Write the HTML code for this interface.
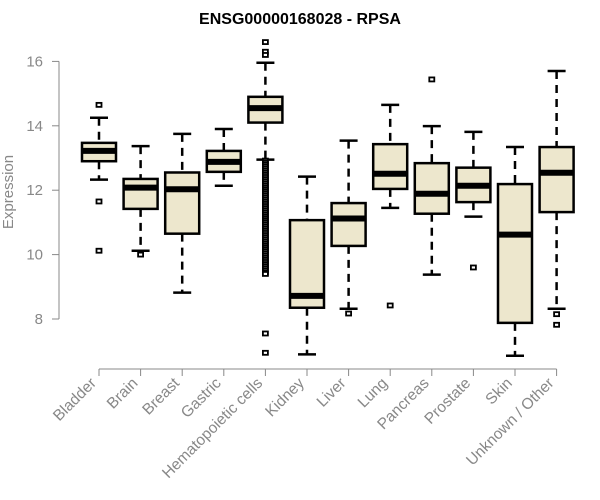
<!DOCTYPE html>
<html><head><meta charset="utf-8"><style>body{margin:0;background:#fff}svg{display:block;font-family:"Liberation Sans",Arial,sans-serif}</style></head>
<body>
<svg id="chart" width="600" height="500">
<text x="300" y="24" text-anchor="middle" font-weight="bold" font-size="16">ENSG00000168028 - RPSA</text>
<text transform="translate(13,192) rotate(-90)" text-anchor="middle" font-size="15" fill="#888">Expression</text>
<g id="plot"></g>
</svg>
<script>
const categories=["Bladder","Brain","Breast","Gastric","Hematopoietic cells","Kidney","Liver","Lung","Pancreas","Prostate","Skin","Unknown / Other"];
const lowWhisker=[12.33,10.12,8.82,12.14,12.95,6.9,8.32,11.45,9.38,11.18,6.86,8.32];
const q1=[12.9,11.42,10.65,12.57,14.1,8.35,10.27,12.04,11.27,11.63,7.88,11.32];
const medians=[13.22,12.08,12.03,12.88,14.55,8.72,11.12,12.51,11.89,12.14,10.62,12.54];
const q3=[13.47,12.35,12.55,13.22,14.9,11.07,11.6,13.43,12.84,12.7,12.19,13.34];
const highWhisker=[14.25,13.37,13.75,13.9,15.96,12.42,13.54,14.65,13.99,13.81,13.34,15.7];
const outliers=[[14.65,11.65,10.12],[10.0],[],[],[16.6,16.3,16.2,12.92,12.86,12.8,12.74,12.68,12.62,12.56,12.5,12.44,12.38,12.32,12.26,12.2,12.14,12.08,12.02,11.96,11.9,11.84,11.78,11.72,11.66,11.6,11.54,11.48,11.42,11.36,11.3,11.24,11.18,11.12,11.06,11.0,10.94,10.88,10.82,10.76,10.7,10.64,10.58,10.52,10.46,10.4,10.34,10.28,10.22,10.16,10.1,10.04,9.98,9.92,9.86,9.8,9.74,9.68,9.62,9.56,9.5,9.44,9.4,7.55,6.95],[],[8.17],[8.42],[15.44],[9.6],[],[8.15,7.82]];
const yTicks=[8,10,12,14,16];
const NS="http://www.w3.org/2000/svg";
const g=document.getElementById('plot');
const y=v=>319-(v-8)*32.2;
const x=i=>99+i*41.6;
function mk(t,a){const e=document.createElementNS(NS,t);for(const k in a)e.setAttribute(k,a[k]);g.appendChild(e);return e;}
let e=mk('line',{x1:59,x2:59,y1:y(yTicks[0]),y2:y(yTicks[yTicks.length-1]),stroke:'#888'});


yTicks.forEach(t=>{
 let l=mk('line',{x1:52,x2:59,y1:y(t),y2:y(t),stroke:'#888'});
 
 
 let tx=mk('text',{x:43,y:y(t)+5,'text-anchor':'end','font-size':15,fill:'#888'});
 tx.textContent=t;
 
 
});
e=mk('line',{x1:x(0),x2:x(categories.length-1),y1:369,y2:369,stroke:'#888'});


const hw=17;
categories.forEach((c,i)=>{
 const cx=x(i);
 let t=mk('line',{x1:cx,x2:cx,y1:369,y2:376,stroke:'#888'});
 
 
 let lb=mk('text',{transform:`translate(${cx-2},${384}) rotate(-45)`,'text-anchor':'end','font-size':15.5,fill:'#888'});
 lb.textContent=c;
 
 
 let w1=mk('line',{x1:cx,x2:cx,y1:y(highWhisker[i]),y2:y(q3[i]),stroke:'#000','stroke-width':2.5,'stroke-dasharray':'8,6'});
 
 
 let w2=mk('line',{x1:cx,x2:cx,y1:y(q1[i]),y2:y(lowWhisker[i]),stroke:'#000','stroke-width':2.5,'stroke-dasharray':'8,6'});
 
 
 let c1=mk('line',{x1:cx-9,x2:cx+9,y1:y(highWhisker[i]),y2:y(highWhisker[i]),stroke:'#000','stroke-width':2.5});
 
 
 let c2=mk('line',{x1:cx-9,x2:cx+9,y1:y(lowWhisker[i]),y2:y(lowWhisker[i]),stroke:'#000','stroke-width':2.5});
 
 
 let b=mk('rect',{x:cx-hw,y:y(q3[i]),width:hw*2,height:y(q1[i])-y(q3[i]),fill:'#ede7cd',stroke:'#000','stroke-width':2.5});
 
 
 let m=mk('line',{x1:cx-hw,x2:cx+hw,y1:y(medians[i]),y2:y(medians[i]),stroke:'#000','stroke-width':6});
 
 
 outliers[i].forEach(v=>{
  let p=mk('rect',{x:cx-2.5,y:y(v)-2,width:5,height:4,fill:'#fff',stroke:'#000','stroke-width':1.8});
  
  
 });
});
</script>
</body></html>
